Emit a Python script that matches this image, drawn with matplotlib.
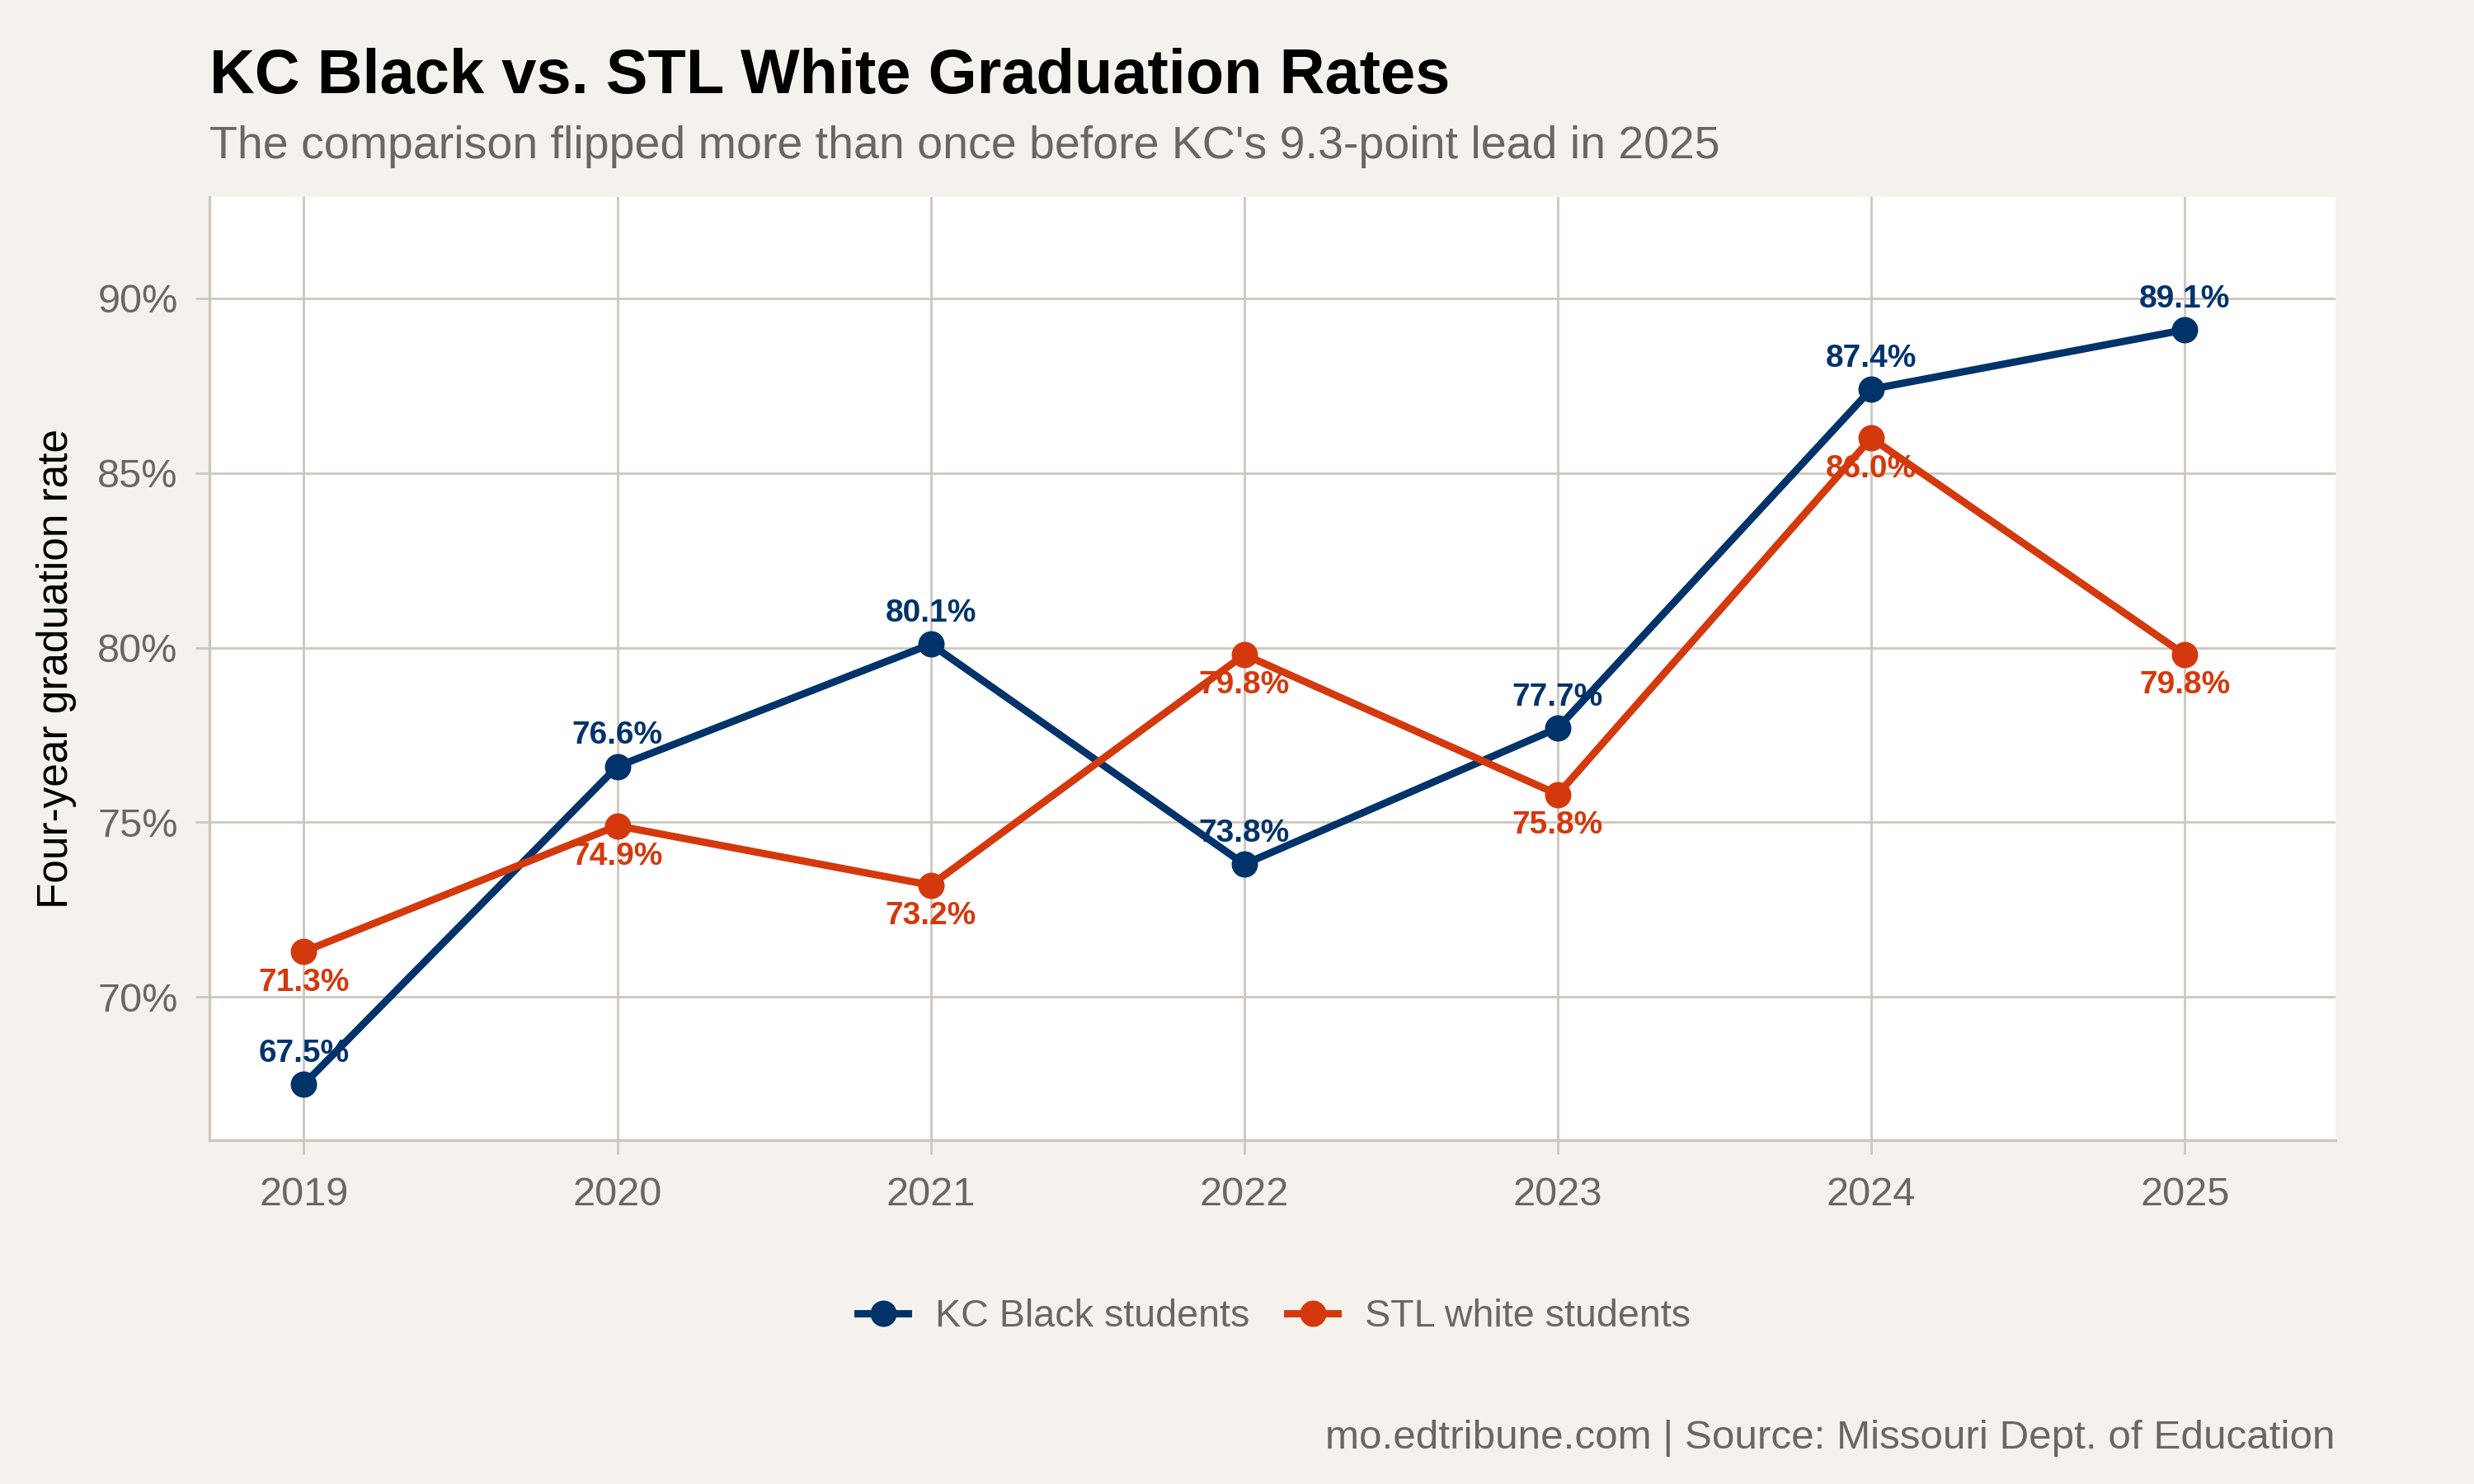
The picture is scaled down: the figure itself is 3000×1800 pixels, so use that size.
import matplotlib.pyplot as plt
from matplotlib.lines import Line2D

years = [2019, 2020, 2021, 2022, 2023, 2024, 2025]
kc_black = [67.5, 76.6, 80.1, 73.8, 77.7, 87.4, 89.1]
stl_white = [71.3, 74.9, 73.2, 79.8, 75.8, 86.0, 79.8]
y_ticks = [70, 75, 80, 85, 90]

NAVY = "#00336a"
ORANGE = "#d4390d"
BG = "#f5f2ed"
GRID = "#cdc7bd"
GREYTXT = "#6b6661"

plt.rcParams['font.family'] = ['Liberation Sans', 'DejaVu Sans']

fig = plt.figure(figsize=(15, 9), dpi=200, facecolor=BG)
ax = fig.add_axes([0.0848, 0.2317, 0.8591, 0.6355])
ax.set_facecolor("white")

LW = 3.2
MS = 10.5
ax.plot(years, kc_black, color=NAVY, lw=LW, marker="o", ms=MS, zorder=3)
ax.plot(years, stl_white, color=ORANGE, lw=LW, marker="o", ms=MS, zorder=3)

for x, y in zip(years, kc_black):
    ax.annotate(f"{y:.1f}%", (x, y), xytext=(0, 7), textcoords="offset points",
                ha="center", va="bottom", color=NAVY, fontsize=14,
                fontweight="bold", zorder=4)
for x, y in zip(years, stl_white):
    ax.annotate(f"{y:.1f}%", (x, y), xytext=(0, -7), textcoords="offset points",
                ha="center", va="top", color=ORANGE, fontsize=14,
                fontweight="bold", zorder=4)

ax.set_xlim(2018.70, 2025.48)
ax.set_ylim(65.9, 92.9)
ax.set_xticks(years)
ax.set_xticklabels([str(y) for y in years])
ax.set_yticks(y_ticks)
ax.set_yticklabels([f"{t}%" for t in y_ticks])

ax.grid(True, color=GRID, lw=1.0, zorder=0)
ax.set_axisbelow(True)
for side in ["top", "right"]:
    ax.spines[side].set_visible(False)
for side in ["left", "bottom"]:
    ax.spines[side].set_color(GRID)
    ax.spines[side].set_linewidth(1.2)
ax.tick_params(colors=GRID, labelcolor=GREYTXT, labelsize=17.5, length=6,
               width=1.0, pad=8)
ax.tick_params(axis="x", pad=10)

ax.set_ylabel("Four-year graduation rate", fontsize=18.5, color="black", labelpad=9)

fig.text(0.0848, 0.948, "KC Black vs. STL White Graduation Rates",
         fontsize=27.3, fontweight="bold", color="black", va="center", ha="left")
fig.text(0.0848, 0.901,
         "The comparison flipped more than once before KC's 9.3-point lead in 2025",
         fontsize=20, color=GREYTXT, va="center", ha="left")
fig.text(0.9439, 0.031, "mo.edtribune.com | Source: Missouri Dept. of Education",
         fontsize=17.8, color=GREYTXT, va="center", ha="right")

handles = [Line2D([0], [0], color=NAVY, lw=LW, marker="o", ms=MS),
           Line2D([0], [0], color=ORANGE, lw=LW, marker="o", ms=MS)]
fig.legend(handles, ["KC Black students", "STL white students"],
           loc="center", bbox_to_anchor=(0.515, 0.1126), ncol=2, frameon=False,
           fontsize=16.8, labelcolor=GREYTXT, handlelength=1.3, handletextpad=0.7,
           columnspacing=1.0)

fig.savefig("out.png", dpi=200, facecolor=BG)
